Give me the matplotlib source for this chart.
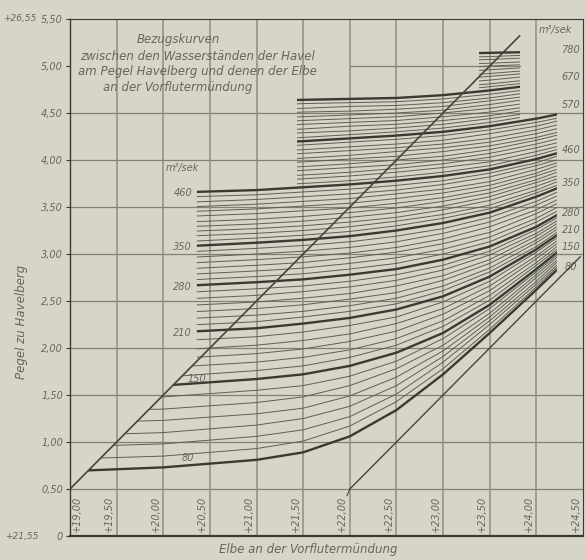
import matplotlib.pyplot as plt
from matplotlib.patches import Polygon, Rectangle

# Havel level at Pegel Havelberg (m above +21,55) against Elbe level at the outfall,
# one row per discharge in m3/sek, values read at fixed Elbe columns
elbe_a = [19.0, 20.0, 21.0, 21.5, 22.0, 22.5, 23.0, 23.5, 24.0, 24.25]
q_a = list(range(80, 461, 10))
havel_a = [
    [0.69, 0.73, 0.81, 0.89, 1.06, 1.34, 1.72, 2.16, 2.62, 2.86],  # 80
    [0.82, 0.85, 0.93, 1.01, 1.17, 1.43, 1.78, 2.20, 2.65, 2.89],
    [0.95, 0.98, 1.06, 1.13, 1.27, 1.51, 1.85, 2.25, 2.68, 2.91],
    [1.07, 1.10, 1.18, 1.25, 1.38, 1.60, 1.91, 2.29, 2.71, 2.94],
    [1.20, 1.23, 1.30, 1.36, 1.49, 1.69, 1.97, 2.33, 2.75, 2.96],
    [1.33, 1.35, 1.42, 1.48, 1.60, 1.78, 2.03, 2.37, 2.78, 2.99],
    [1.45, 1.48, 1.55, 1.60, 1.70, 1.86, 2.10, 2.42, 2.81, 3.01],
    [1.57, 1.60, 1.67, 1.72, 1.81, 1.95, 2.16, 2.46, 2.84, 3.04],  # 150
    [1.66, 1.69, 1.76, 1.81, 1.90, 2.03, 2.23, 2.51, 2.88, 3.07],
    [1.75, 1.79, 1.85, 1.90, 1.98, 2.10, 2.29, 2.56, 2.91, 3.10],
    [1.85, 1.88, 1.94, 1.99, 2.07, 2.18, 2.36, 2.61, 2.95, 3.13],
    [1.94, 1.97, 2.03, 2.08, 2.15, 2.26, 2.42, 2.66, 2.98, 3.16],
    [2.03, 2.07, 2.12, 2.17, 2.24, 2.33, 2.49, 2.71, 3.02, 3.19],
    [2.12, 2.16, 2.21, 2.26, 2.32, 2.41, 2.55, 2.76, 3.05, 3.22],  # 210
    [2.19, 2.23, 2.28, 2.33, 2.39, 2.47, 2.61, 2.81, 3.08, 3.25],
    [2.26, 2.30, 2.35, 2.39, 2.45, 2.53, 2.66, 2.85, 3.12, 3.28],
    [2.33, 2.37, 2.42, 2.46, 2.52, 2.59, 2.72, 2.90, 3.15, 3.31],
    [2.41, 2.44, 2.49, 2.53, 2.58, 2.66, 2.77, 2.94, 3.19, 3.34],
    [2.48, 2.51, 2.56, 2.60, 2.65, 2.72, 2.83, 2.99, 3.22, 3.37],
    [2.55, 2.58, 2.63, 2.66, 2.71, 2.78, 2.88, 3.03, 3.26, 3.40],
    [2.62, 2.65, 2.70, 2.73, 2.78, 2.84, 2.94, 3.08, 3.29, 3.43],  # 280
    [2.68, 2.71, 2.76, 2.79, 2.84, 2.90, 3.00, 3.13, 3.34, 3.47],
    [2.74, 2.77, 2.82, 2.85, 2.90, 2.96, 3.05, 3.18, 3.38, 3.51],
    [2.80, 2.83, 2.88, 2.91, 2.96, 3.02, 3.11, 3.23, 3.43, 3.55],
    [2.86, 2.89, 2.94, 2.97, 3.01, 3.07, 3.16, 3.29, 3.47, 3.59],
    [2.92, 2.95, 3.00, 3.03, 3.07, 3.13, 3.22, 3.34, 3.52, 3.63],
    [2.98, 3.01, 3.06, 3.09, 3.13, 3.19, 3.27, 3.39, 3.56, 3.67],
    [3.04, 3.07, 3.12, 3.15, 3.19, 3.25, 3.33, 3.44, 3.61, 3.71],  # 350
    [3.09, 3.12, 3.17, 3.20, 3.24, 3.30, 3.38, 3.48, 3.65, 3.74],
    [3.15, 3.18, 3.22, 3.25, 3.29, 3.35, 3.42, 3.52, 3.68, 3.78],
    [3.20, 3.23, 3.27, 3.30, 3.34, 3.39, 3.47, 3.57, 3.72, 3.81],
    [3.25, 3.28, 3.32, 3.35, 3.39, 3.44, 3.51, 3.61, 3.76, 3.84],
    [3.31, 3.33, 3.37, 3.40, 3.44, 3.49, 3.56, 3.65, 3.79, 3.88],
    [3.36, 3.39, 3.43, 3.46, 3.49, 3.54, 3.60, 3.69, 3.83, 3.91],
    [3.42, 3.44, 3.48, 3.51, 3.54, 3.59, 3.65, 3.73, 3.86, 3.95],
    [3.47, 3.49, 3.53, 3.56, 3.59, 3.64, 3.69, 3.77, 3.90, 3.98],
    [3.52, 3.54, 3.58, 3.61, 3.64, 3.68, 3.74, 3.82, 3.94, 4.01],
    [3.58, 3.60, 3.63, 3.66, 3.69, 3.73, 3.78, 3.86, 3.97, 4.05],
    [3.63, 3.65, 3.68, 3.71, 3.74, 3.78, 3.83, 3.90, 4.01, 4.08],  # 460
]

elbe_b = [21.0, 21.5, 22.0, 22.5, 23.0, 23.5, 24.0, 24.25]
q_b = list(range(470, 671, 10))
havel_b = [
    [3.73, 3.75, 3.78, 3.82, 3.87, 3.94, 4.05, 4.12],
    [3.77, 3.80, 3.83, 3.87, 3.92, 3.98, 4.09, 4.15],
    [3.82, 3.84, 3.87, 3.91, 3.96, 4.03, 4.13, 4.19],
    [3.86, 3.89, 3.92, 3.95, 4.00, 4.07, 4.17, 4.23],
    [3.91, 3.93, 3.96, 4.00, 4.04, 4.11, 4.21, 4.27],
    [3.95, 3.98, 4.01, 4.04, 4.09, 4.15, 4.24, 4.30],
    [4.00, 4.02, 4.05, 4.09, 4.13, 4.19, 4.28, 4.34],
    [4.04, 4.07, 4.10, 4.13, 4.17, 4.23, 4.32, 4.38],
    [4.09, 4.11, 4.14, 4.17, 4.21, 4.28, 4.36, 4.42],
    [4.13, 4.16, 4.19, 4.22, 4.26, 4.32, 4.40, 4.45],
    [4.18, 4.20, 4.23, 4.26, 4.30, 4.36, 4.44, 4.49],  # 570
    [4.22, 4.24, 4.27, 4.30, 4.34, 4.40, 4.48, 4.52],
    [4.27, 4.29, 4.31, 4.34, 4.38, 4.44, 4.51, 4.56],
    [4.31, 4.33, 4.36, 4.38, 4.42, 4.47, 4.55, 4.59],
    [4.36, 4.38, 4.40, 4.42, 4.46, 4.51, 4.58, 4.63],
    [4.40, 4.42, 4.44, 4.46, 4.50, 4.55, 4.62, 4.66],
    [4.45, 4.46, 4.48, 4.50, 4.53, 4.59, 4.66, 4.69],
    [4.49, 4.51, 4.52, 4.54, 4.57, 4.63, 4.69, 4.73],
    [4.54, 4.55, 4.57, 4.58, 4.61, 4.66, 4.73, 4.76],
    [4.58, 4.60, 4.61, 4.62, 4.65, 4.70, 4.76, 4.80],
    [4.63, 4.64, 4.65, 4.66, 4.69, 4.74, 4.80, 4.83],  # 670
]

elbe_c = [23.0, 23.5, 24.0]
q_c = list(range(680, 781, 10))
havel_c = [
    [4.73, 4.78, 4.83],
    [4.77, 4.81, 4.86],
    [4.81, 4.85, 4.90],
    [4.85, 4.89, 4.93],
    [4.89, 4.92, 4.96],
    [4.93, 4.96, 4.99],
    [4.97, 5.00, 5.02],
    [5.01, 5.03, 5.05],
    [5.05, 5.07, 5.09],
    [5.09, 5.10, 5.12],
    [5.13, 5.14, 5.15],  # 780
]

thick_q = [80, 150, 210, 280, 350, 460, 570, 670, 780]

# the two 45 degree reference lines
diag1_elbe, diag1_havel = [19.0, 23.82], [0.5, 5.32]
diag2_elbe, diag2_havel = [22.0, 24.47], [0.5, 2.97]

x_ticks = [19.0, 19.5, 20.0, 20.5, 21.0, 21.5, 22.0, 22.5, 23.0, 23.5, 24.0, 24.5]
x_labels = ['+19,00', '+19,50', '+20,00', '+20,50', '+21,00', '+21,50',
            '+22,00', '+22,50', '+23,00', '+23,50', '+24,00', '+24,50']
y_ticks = [0, 0.5, 1.0, 1.5, 2.0, 2.5, 3.0, 3.5, 4.0, 4.5, 5.0, 5.5]
y_labels = ['0', '0,50', '1,00', '1,50', '2,00', '2,50', '3,00', '3,50',
            '4,00', '4,50', '5,00', '5,50']

left_q = [460, 350, 280, 210]
right_q = ['780', '670', '570', '460', '350', '280', '210', '150', '80']
right_q_pos = [5.17, 4.88, 4.59, 4.11, 3.76, 3.44, 3.26, 3.07, 2.86]

bg = '#d6d5c8'
ink = '#3a3a32'
thin = '#5e5e54'
grid = '#808075'
txt = '#66665c'

fig = plt.figure(figsize=(5.86, 5.60), dpi=100)
fig.patch.set_facecolor(bg)
ax = fig.add_axes([70 / 586, 24 / 560, 513 / 586, 517 / 560])
ax.set_facecolor(bg)
ax.set_xlim(19.0, 24.5)
ax.set_ylim(0, 5.5)

for s in ['top', 'right']:
    ax.spines[s].set_color(ink)
    ax.spines[s].set_linewidth(0.8)
ax.spines['left'].set_color(ink)
ax.spines['left'].set_linewidth(1.0)
ax.spines['bottom'].set_color(ink)
ax.spines['bottom'].set_linewidth(1.6)

ax.set_xticks([])
ax.set_yticks(y_ticks)
ax.set_yticklabels(y_labels, fontsize=7, style='italic', color=txt)
ax.tick_params(axis='y', length=3, width=0.8, color=ink, pad=2)

# grid
for y in y_ticks[1:-2]:
    ax.axhline(y, color=grid, lw=0.9, zorder=1)
ax.plot([22.0, 23.82], [5.0, 5.0], color=grid, lw=0.9, zorder=1)
for x in x_ticks[1:-1]:
    ax.axvline(x, color='#8e8e84', lw=1.1, zorder=1)

# clipping regions of the three sheets of curves
a_left, b_left, c_left = 20.36, 21.43, 23.39
end_low, end_high = 24.22, 23.82


def region(q):
    if q <= 460:
        pts = [(19.0, 0.5), (a_left, a_left - 18.5), (a_left, 5.6),
               (end_low, 5.6), (end_low, 0.3), (19.0, 0.3)]
        return Polygon(pts, closed=True, transform=ax.transData)
    if q <= 570:
        return Rectangle((b_left, 0), end_low - b_left, 5.6, transform=ax.transData)
    if q <= 670:
        return Rectangle((b_left, 0), end_high - b_left, 5.6, transform=ax.transData)
    return Rectangle((c_left, 0), end_high - c_left, 5.6, transform=ax.transData)


for elbe, qs, rows in [(elbe_a, q_a, havel_a), (elbe_b, q_b, havel_b), (elbe_c, q_c, havel_c)]:
    for q, row in zip(qs, rows):
        heavy = q in thick_q
        ln, = ax.plot(elbe, row, color=ink if heavy else thin,
                      lw=1.7 if heavy else 0.7, solid_capstyle='butt', zorder=3 if heavy else 2)
        ln.set_clip_path(region(q))

ax.plot(diag1_elbe, diag1_havel, color='#45453d', lw=1.2, zorder=4)
ax.plot(diag2_elbe, diag2_havel, color='#45453d', lw=1.0, zorder=4)
ax.plot([21.97, 22.0], [0.43, 0.5], color='#45453d', lw=0.8)

# x tick labels, written upward between the grid lines
for x, lab in zip(x_ticks, x_labels):
    xp = x + 0.08 if x == 19.0 else x - 0.08
    ax.text(xp, 0.24, lab, rotation=90, ha='center', va='center',
            fontsize=7, style='italic', color=txt)

# discharge labels
lab_kw = dict(fontsize=7, style='italic', color=txt)
ax.text(20.2, 3.92, 'm³/sek', ha='center', va='center', **lab_kw)
for q in left_q:
    ax.text(20.31, havel_a[q_a.index(q)][1], str(q), ha='right', va='center', **lab_kw)
ax.text(20.36, 1.67, '150', ha='center', va='center', **lab_kw)
ax.text(20.26, 0.83, '80', ha='center', va='center', **lab_kw)
ax.text(24.2, 5.38, 'm³/sek', ha='center', va='center', **lab_kw)
for lab, y in zip(right_q, right_q_pos):
    ax.text(24.37, y, lab, ha='center', va='center', **lab_kw)

# title block
t_kw = dict(ha='center', va='center', fontsize=8.5, style='italic', color=txt)
fig.text(178 / 586, 1 - 39 / 560, 'Bezugskurven', **t_kw)
fig.text(197 / 586, 1 - 57 / 560, 'zwischen den Wasserständen der Havel', **t_kw)
fig.text(197 / 586, 1 - 72 / 560, 'am Pegel Havelberg und denen der Elbe', **t_kw)
fig.text(178 / 586, 1 - 88 / 560, 'an der Vorflutermündung', **t_kw)

fig.text(22 / 586, 1 - 322 / 560, 'Pegel zu Havelberg', rotation=90,
         ha='center', va='center', fontsize=8.5, style='italic', color=txt)
fig.text(308 / 586, 1 - 549 / 560, 'Elbe an der Vorflutermündung',
         ha='center', va='center', fontsize=8.5, style='italic', color=txt)
fig.text(20 / 586, 1 - 19 / 560, '+26,55', ha='center', va='center', fontsize=6.5, style='italic', color=txt)
fig.text(22 / 586, 1 - 536 / 560, '+21,55', ha='center', va='center', fontsize=6.5, style='italic', color=txt)

plt.savefig('out.png', dpi=100, facecolor=bg)
